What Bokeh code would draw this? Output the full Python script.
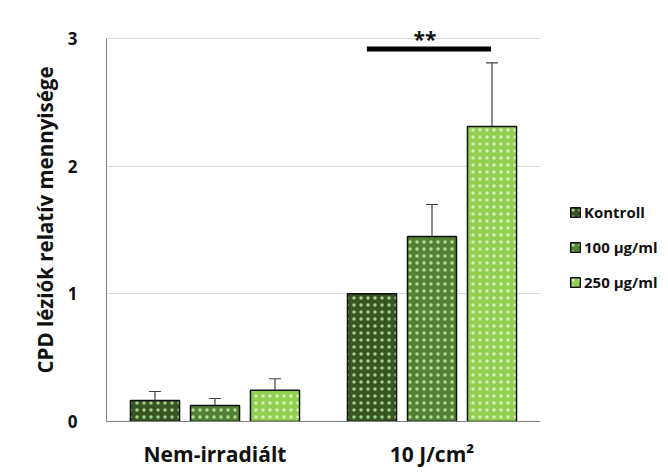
from bokeh.plotting import figure
from bokeh.models import ColumnDataSource, FactorRange, Legend, LegendItem, FixedTicker
from bokeh.layouts import row
from bokeh.transform import dodge
from bokeh.core.properties import value
from bokeh.embed import file_html
from bokeh.resources import INLINE

groups = ["Nem-irradiált", "10 J/cm²"]
series = ["Kontroll", "100 µg/ml", "250 µg/ml"]
kontroll = [0.165, 1.0]
kontroll_err = [0.07, 0.0]
c100 = [0.125, 1.45]
c100_err = [0.055, 0.25]
c250 = [0.245, 2.31]
c250_err = [0.09, 0.50]
y_ticks = [0, 1, 2, 3]
sig_y = 2.918
sig_text_y = 2.993
sig_text = "**"

colors = ["#375623", "#548235", "#92d050"]
dot_colors = ["#a9d18e", "#b5dd95", "#d8f0bd"]
FONT = "Open Sans"

p = figure(x_range=FactorRange(*groups), y_range=(0, 3.157), width=540, height=473,
           output_backend="svg", toolbar_location=None,
           min_border_left=106, min_border_right=0, min_border_top=18, min_border_bottom=52)
p.outline_line_color = None

offsets = [-0.2765, 0.0, 0.2765]
vals = [kontroll, c100, c250]
errs = [kontroll_err, c100_err, c250_err]
bar_style = []
for i in range(3):
    style = dict(fill_color=colors[i], line_color="#111111", line_width=1.5,
                 hatch_pattern="dot", hatch_color=dot_colors[i], hatch_scale=7, hatch_weight=1.5)
    bar_style.append(style)
    src = ColumnDataSource(dict(g=groups, v=vals[i]))
    p.vbar(x=dodge("g", offsets[i], range=p.x_range), top="v", width=0.226, source=src, **style)
    src2 = ColumnDataSource(dict(g=[g for g, e in zip(groups, errs[i]) if e > 0],
                                 v=[v for v, e in zip(vals[i], errs[i]) if e > 0],
                                 top=[v + e for v, e in zip(vals[i], errs[i]) if e > 0]))
    p.segment(x0=dodge("g", offsets[i], range=p.x_range), y0="v",
              x1=dodge("g", offsets[i], range=p.x_range), y1="top", source=src2,
              line_color="#404040", line_width=1.2)
    p.scatter(x=dodge("g", offsets[i], range=p.x_range), y="top", marker="dash", size=12,
              source=src2, line_color="#404040", line_width=1.2)

# significance bar and stars
ssrc = ColumnDataSource(dict(g=[groups[1]], y=[sig_y], ty=[sig_text_y], t=[sig_text]))
p.segment(x0=dodge("g", -0.30, range=p.x_range), y0="y",
          x1=dodge("g", 0.272, range=p.x_range), y1="y", source=ssrc,
          line_color="#000000", line_width=5)
p.text(x=dodge("g", -0.032, range=p.x_range), y="ty", text="t", source=ssrc,
       text_font=value(FONT), text_font_style="bold", text_font_size="21px",
       text_align="center", text_baseline="middle", text_color="#111111")

# axes
p.yaxis.ticker = FixedTicker(ticks=y_ticks)
p.yaxis.bounds = (0, 3)
p.yaxis.major_tick_line_color = None
p.yaxis.minor_tick_line_color = None
p.yaxis.axis_line_color = "#808080"
p.yaxis.major_label_text_font = FONT
p.yaxis.major_label_text_font_style = "bold"
p.yaxis.major_label_text_font_size = "17px"
p.yaxis.major_label_text_color = "#111111"
p.yaxis.major_label_standoff = 23
p.yaxis.axis_label = "CPD léziók relatív mennyisége"
p.yaxis.axis_label_text_font = FONT
p.yaxis.axis_label_text_font_style = "bold"
p.yaxis.axis_label_text_font_size = "20.5px"
p.yaxis.axis_label_text_color = "#111111"
p.yaxis.axis_label_standoff = 6

p.xaxis.major_tick_line_color = None
p.xaxis.axis_line_color = "#808080"
p.xaxis.major_label_text_font = FONT
p.xaxis.major_label_text_font_style = "bold"
p.xaxis.major_label_text_font_size = "21px"
p.xaxis.major_label_text_color = "#111111"
p.xaxis.major_label_standoff = 12

p.xgrid.grid_line_color = None
p.ygrid.grid_line_color = "#d9d9d9"
p.ygrid.ticker = FixedTicker(ticks=[1, 2, 3])

# legend panel: its x range holds the series names, so the group bars map nowhere
pl = figure(width=128, height=473, x_range=FactorRange(*series), y_range=(0, 3.157),
            output_backend="svg", toolbar_location=None, min_border=0)
pl.outline_line_color = None
pl.axis.visible = False
pl.grid.visible = False
leg_renderers = []
for i in range(3):
    lsrc = ColumnDataSource(dict(g=groups, v=vals[i]))
    leg_renderers.append(pl.vbar(x="g", top="v", width=0.2, source=lsrc, **bar_style[i]))
legend = Legend(items=[LegendItem(label=s, renderers=[r]) for s, r in zip(series, leg_renderers)],
                location=(29, 129), padding=0, margin=0, spacing=15, glyph_width=12, glyph_height=12,
                label_height=14, label_standoff=3, border_line_color=None,
                background_fill_alpha=0, label_text_font=FONT, label_text_font_style="bold",
                label_text_font_size="15px", label_text_color="#111111")
pl.add_layout(legend, "center")

open("out.html", "w").write(file_html(row(p, pl), INLINE))
